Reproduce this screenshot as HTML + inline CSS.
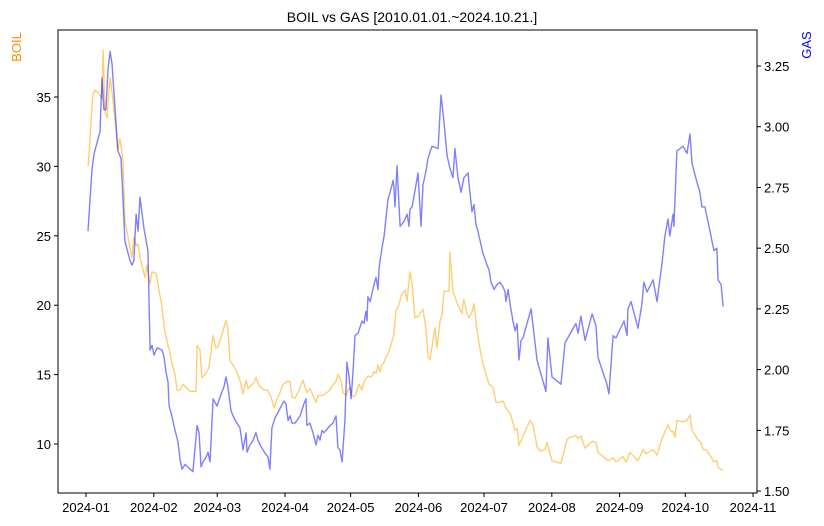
<!DOCTYPE html>
<html><head><meta charset="utf-8"><style>
body{margin:0;background:#fff;}
svg{display:block;font-family:"Liberation Sans","DejaVu Sans",sans-serif;}
</style></head><body>
<svg id="chart" width="824" height="526" viewBox="0 0 824 526" xmlns="http://www.w3.org/2000/svg">
<rect x="0" y="0" width="824" height="526" fill="#fff"/>
<text x="412" y="22" text-anchor="middle" font-size="14" fill="#000">BOIL vs GAS [2010.01.01.~2024.10.21.]</text>
<text transform="translate(21,47) rotate(-90)" text-anchor="middle" font-size="13" fill="#ff8c00">BOIL</text>
<text transform="translate(811,45) rotate(-90)" text-anchor="middle" font-size="13" fill="#0000ff">GAS</text>
<g id="marks"></g>
<rect x="58" y="30" width="699" height="463" fill="none" stroke="#000" stroke-width="1"/>
<g id="axes"></g>
</svg>
<script>
const monthDays=[0,31,60,91,121,152,182,213,244,274,305];
const monthLabels=["2024-01","2024-02","2024-03","2024-04","2024-05","2024-06","2024-07","2024-08","2024-09","2024-10","2024-11"];
const boilTicks=[10,15,20,25,30,35];
const gasTicks=[1.50,1.75,2.00,2.25,2.50,2.75,3.00,3.25];
const boilDays=[1,3,4,5.5,7.3,7.8,8.7,9.6,11,12.3,14.6,15.5,16.9,17.8,20.1,21,21.9,22.9,23.8,24.7,27,27.9,29.3,30.2,32,33.8,34.8,35.7,37.5,38.4,39.3,40.7,41.6,43,44.4,45.7,47.6,50.3,50.8,52.1,53,54.4,56.2,58.1,59.4,60.4,62.2,63.6,64,64.9,65.8,67.2,68.6,70.4,71.8,73.2,74.1,75.4,76.8,77.7,79.1,80.5,81.4,82.8,84.6,86,87.3,88.7,90.1,91.9,93.3,94.2,95.6,96.9,99.2,101,102.4,105.2,106.1,108.4,111.6,112.5,114.3,115.2,116.6,117.5,118.9,119.8,120.7,121.6,122.5,123.5,123.9,124.8,126.2,127.1,128.9,130.3,131.7,132.6,133.5,134.4,135.3,136.3,136.7,138.1,139,140.8,141.7,142.7,144.5,145.9,146.8,148.1,149.1,150.4,151.8,154.1,155.5,156.4,157.3,159.6,160.5,161.9,162.8,163.7,166,166.4,167.8,169.6,171,171.9,172.8,174.2,175.1,176.5,177.4,178.8,180.2,181.5,182.9,184.3,186.1,187.5,188.8,190.7,192,193.9,196.2,197.1,198,199.4,203,204.4,206.2,207.6,209.9,210.8,213.1,217.2,219.9,221.3,224,225,226.3,228.2,231.4,233.2,234.1,238.7,241,242.3,245.5,246.9,248.7,252.4,254.7,256.1,259.3,261.1,263.4,266.1,267.5,268.4,269.3,270.2,273,274.8,276.2,277.1,279.8,281.2,282.1,283.5,285.3,287.1,288.5,289,291.3];
const boilVals=[30.0,35.0,35.5,35.3,34.9,38.4,33.9,33.5,36.4,34.8,31.2,32.0,30.5,26.1,24.1,23.4,24.9,24.3,24.4,23.4,22.0,22.9,21.5,22.4,22.3,20.7,19.9,18.4,17.1,16.6,15.8,15.0,13.9,13.9,14.3,14.1,13.8,13.8,17.1,16.8,14.8,15.0,15.5,17.8,16.9,17.0,17.9,18.7,18.9,18.4,16.0,15.7,15.3,14.6,13.6,14.6,14.0,14.2,14.4,14.8,14.2,14.0,13.9,13.9,13.4,12.6,13.2,13.7,14.3,14.5,14.5,13.4,13.3,13.7,14.6,13.7,14.0,13.0,13.5,13.5,13.9,14.2,14.5,15.0,14.6,13.7,13.5,13.9,14.1,13.5,13.4,13.6,13.9,14.3,13.9,14.5,14.9,14.8,15.2,15.1,15.7,15.2,15.7,15.9,16.1,16.5,16.9,17.9,19.6,19.9,20.8,21.1,20.3,22.4,21.6,19.1,19.2,19.7,18.2,16.3,16.1,18.4,16.9,18.9,19.3,21.0,21.0,23.8,21.0,20.2,19.7,19.4,20.4,19.4,19.1,19.5,20.1,18.2,16.8,15.8,15.0,14.3,14.1,13.0,13.0,13.1,12.6,12.2,11.0,11.1,9.9,10.4,11.7,11.4,9.8,9.5,9.6,10.1,8.8,8.6,10.3,10.5,10.6,10.4,10.6,9.7,10.2,10.1,9.4,8.8,9.0,8.7,9.1,8.7,9.4,8.8,9.6,9.3,9.6,9.2,10.4,11.4,10.9,10.9,10.5,11.7,11.6,11.7,12.1,11.0,10.3,10.1,9.6,9.6,9.2,8.7,8.8,8.3,8.1];
const gasDays=[0.9,2.7,3.7,4.6,5.5,6.4,7.3,8.2,9.1,10.1,11,11.9,14.6,16,16.9,17.8,19.2,20.1,21,21.9,22.9,23.8,24.7,26.5,28.3,29.3,30.2,31.1,32.5,34.8,35.7,36.6,37.5,38,39.3,40.2,42.1,43,43.9,45.3,47.6,48.9,50.8,51.7,52.6,53.5,54.9,55.8,56.7,58.1,59.9,62.2,63.1,64,64.9,66.3,67.7,69,70.4,71.8,73.2,73.6,75,76.4,77.7,78.6,79.6,80.9,82.3,83.2,84.1,85,86.4,88.7,90.5,91.4,92.4,93.3,94.2,95.6,97.9,99.7,100.6,101,102.4,103.8,105.2,106.1,107,107.9,108.8,111.6,112.9,114.3,115.2,116.1,117.1,118.4,119.3,120.3,121.2,122.1,123,124.4,126.2,127.1,128,128.5,128.9,129.9,131.7,132.6,133.5,134,135.3,136.3,137.2,138.1,139.9,140.4,140.8,141.3,142.2,143.6,145.4,146.8,147.7,148.1,149.1,150.9,151.8,153.2,154.1,155.5,156.4,158.2,161,162.3,163.7,165.1,166.4,167.8,168.7,170.1,171.5,172.8,174.7,175.1,176.5,177.4,178.3,179.2,180.2,181.5,183.4,184.3,185.2,186.6,187.9,189.3,190.7,191.6,192,193,193.9,195.2,196.2,197.1,198,198.9,199.8,203.5,206.2,210.3,211.2,213.1,217.2,219,224,225,226.3,228.2,231.4,233.2,234.1,238.2,239.1,241,242.3,246,247.4,247.8,249.2,252.4,254.2,255.1,256.5,259.3,261.1,263.4,264.7,266.1,267,268.4,268.8,270.2,273,274.8,276.2,277.1,279.4,280.7,281.6,283,285.3,287.1,288.5,289,290.4,291.3];
const gasVals=[2.57,2.82,2.89,2.92,2.95,2.98,3.20,3.07,3.07,3.24,3.31,3.26,2.90,2.87,2.70,2.53,2.48,2.45,2.43,2.45,2.64,2.57,2.71,2.58,2.49,2.08,2.10,2.06,2.09,2.08,2.05,1.99,1.95,1.85,1.81,1.77,1.70,1.63,1.59,1.61,1.59,1.58,1.77,1.74,1.60,1.62,1.64,1.66,1.62,1.88,1.85,1.91,1.93,1.97,1.93,1.83,1.80,1.78,1.76,1.67,1.74,1.66,1.69,1.71,1.74,1.71,1.69,1.67,1.65,1.64,1.59,1.76,1.80,1.84,1.87,1.86,1.79,1.81,1.78,1.78,1.81,1.86,1.88,1.77,1.78,1.74,1.69,1.73,1.71,1.75,1.74,1.77,1.78,1.81,1.68,1.67,1.62,1.79,2.03,1.97,1.88,1.99,2.14,2.15,2.20,2.19,2.24,2.20,2.30,2.28,2.35,2.38,2.33,2.42,2.50,2.55,2.63,2.70,2.76,2.78,2.75,2.67,2.84,2.59,2.61,2.64,2.59,2.66,2.67,2.76,2.81,2.59,2.76,2.82,2.87,2.92,2.91,3.13,3.02,2.88,2.83,2.79,2.91,2.79,2.73,2.79,2.81,2.77,2.65,2.68,2.60,2.57,2.53,2.48,2.43,2.41,2.36,2.33,2.35,2.36,2.34,2.32,2.28,2.33,2.27,2.20,2.16,2.19,2.04,2.12,2.13,2.25,2.04,1.91,2.13,1.97,1.94,2.11,2.19,2.15,2.22,2.12,2.23,2.18,2.05,1.94,1.90,2.14,2.13,2.20,2.14,2.25,2.28,2.17,2.27,2.36,2.32,2.37,2.28,2.44,2.55,2.62,2.55,2.64,2.59,2.90,2.92,2.89,2.97,2.85,2.77,2.73,2.67,2.67,2.57,2.49,2.50,2.37,2.35,2.26];

const NS="http://www.w3.org/2000/svg";
function xS(d){return 86+d*2.187;}
function yBoil(v){return 97+(35-v)*13.88;}
function yGas(v){return 66+(3.25-v)*242.9;}
const marks=document.getElementById('marks');
const axes=document.getElementById('axes');
function mk(tag,attrs,parent){const e=document.createElementNS(NS,tag);for(const k in attrs)e.setAttribute(k,attrs[k]);parent.appendChild(e);return e;}

let pb=boilDays.map((d,i)=>xS(d).toFixed(1)+","+yBoil(boilVals[i]).toFixed(1)).join(" ");
const lb=mk('polyline',{points:pb,fill:'none',stroke:'#ffa500','stroke-opacity':'0.55','stroke-width':'1.4','stroke-linejoin':'round'},marks);


let pg=gasDays.map((d,i)=>xS(d).toFixed(1)+","+yGas(gasVals[i]).toFixed(1)).join(" ");
const lg=mk('polyline',{points:pg,fill:'none',stroke:'#0000ff','stroke-opacity':'0.5','stroke-width':'1.4','stroke-linejoin':'round'},marks);



monthDays.forEach((d,i)=>{
  const x=xS(d);
  mk('line',{x1:x,x2:x,y1:493,y2:497,stroke:'#000'},axes);
  const t=mk('text',{x:x,y:512,'text-anchor':'middle','font-size':'13',fill:'#000'},axes);
  t.textContent=monthLabels[i];
  
  
});
boilTicks.forEach(v=>{
  const y=yBoil(v);
  mk('line',{x1:54,x2:58,y1:y,y2:y,stroke:'#000'},axes);
  const t=mk('text',{x:51,y:y+5,'text-anchor':'end','font-size':'13',fill:'#000'},axes);
  t.textContent=String(v);
  
  
});
gasTicks.forEach(v=>{
  const y=yGas(v);
  mk('line',{x1:757,x2:761,y1:y,y2:y,stroke:'#000'},axes);
  const t=mk('text',{x:764,y:y+5,'text-anchor':'start','font-size':'13',fill:'#000'},axes);
  t.textContent=v.toFixed(2);
  
  
});
</script>
</body></html>
